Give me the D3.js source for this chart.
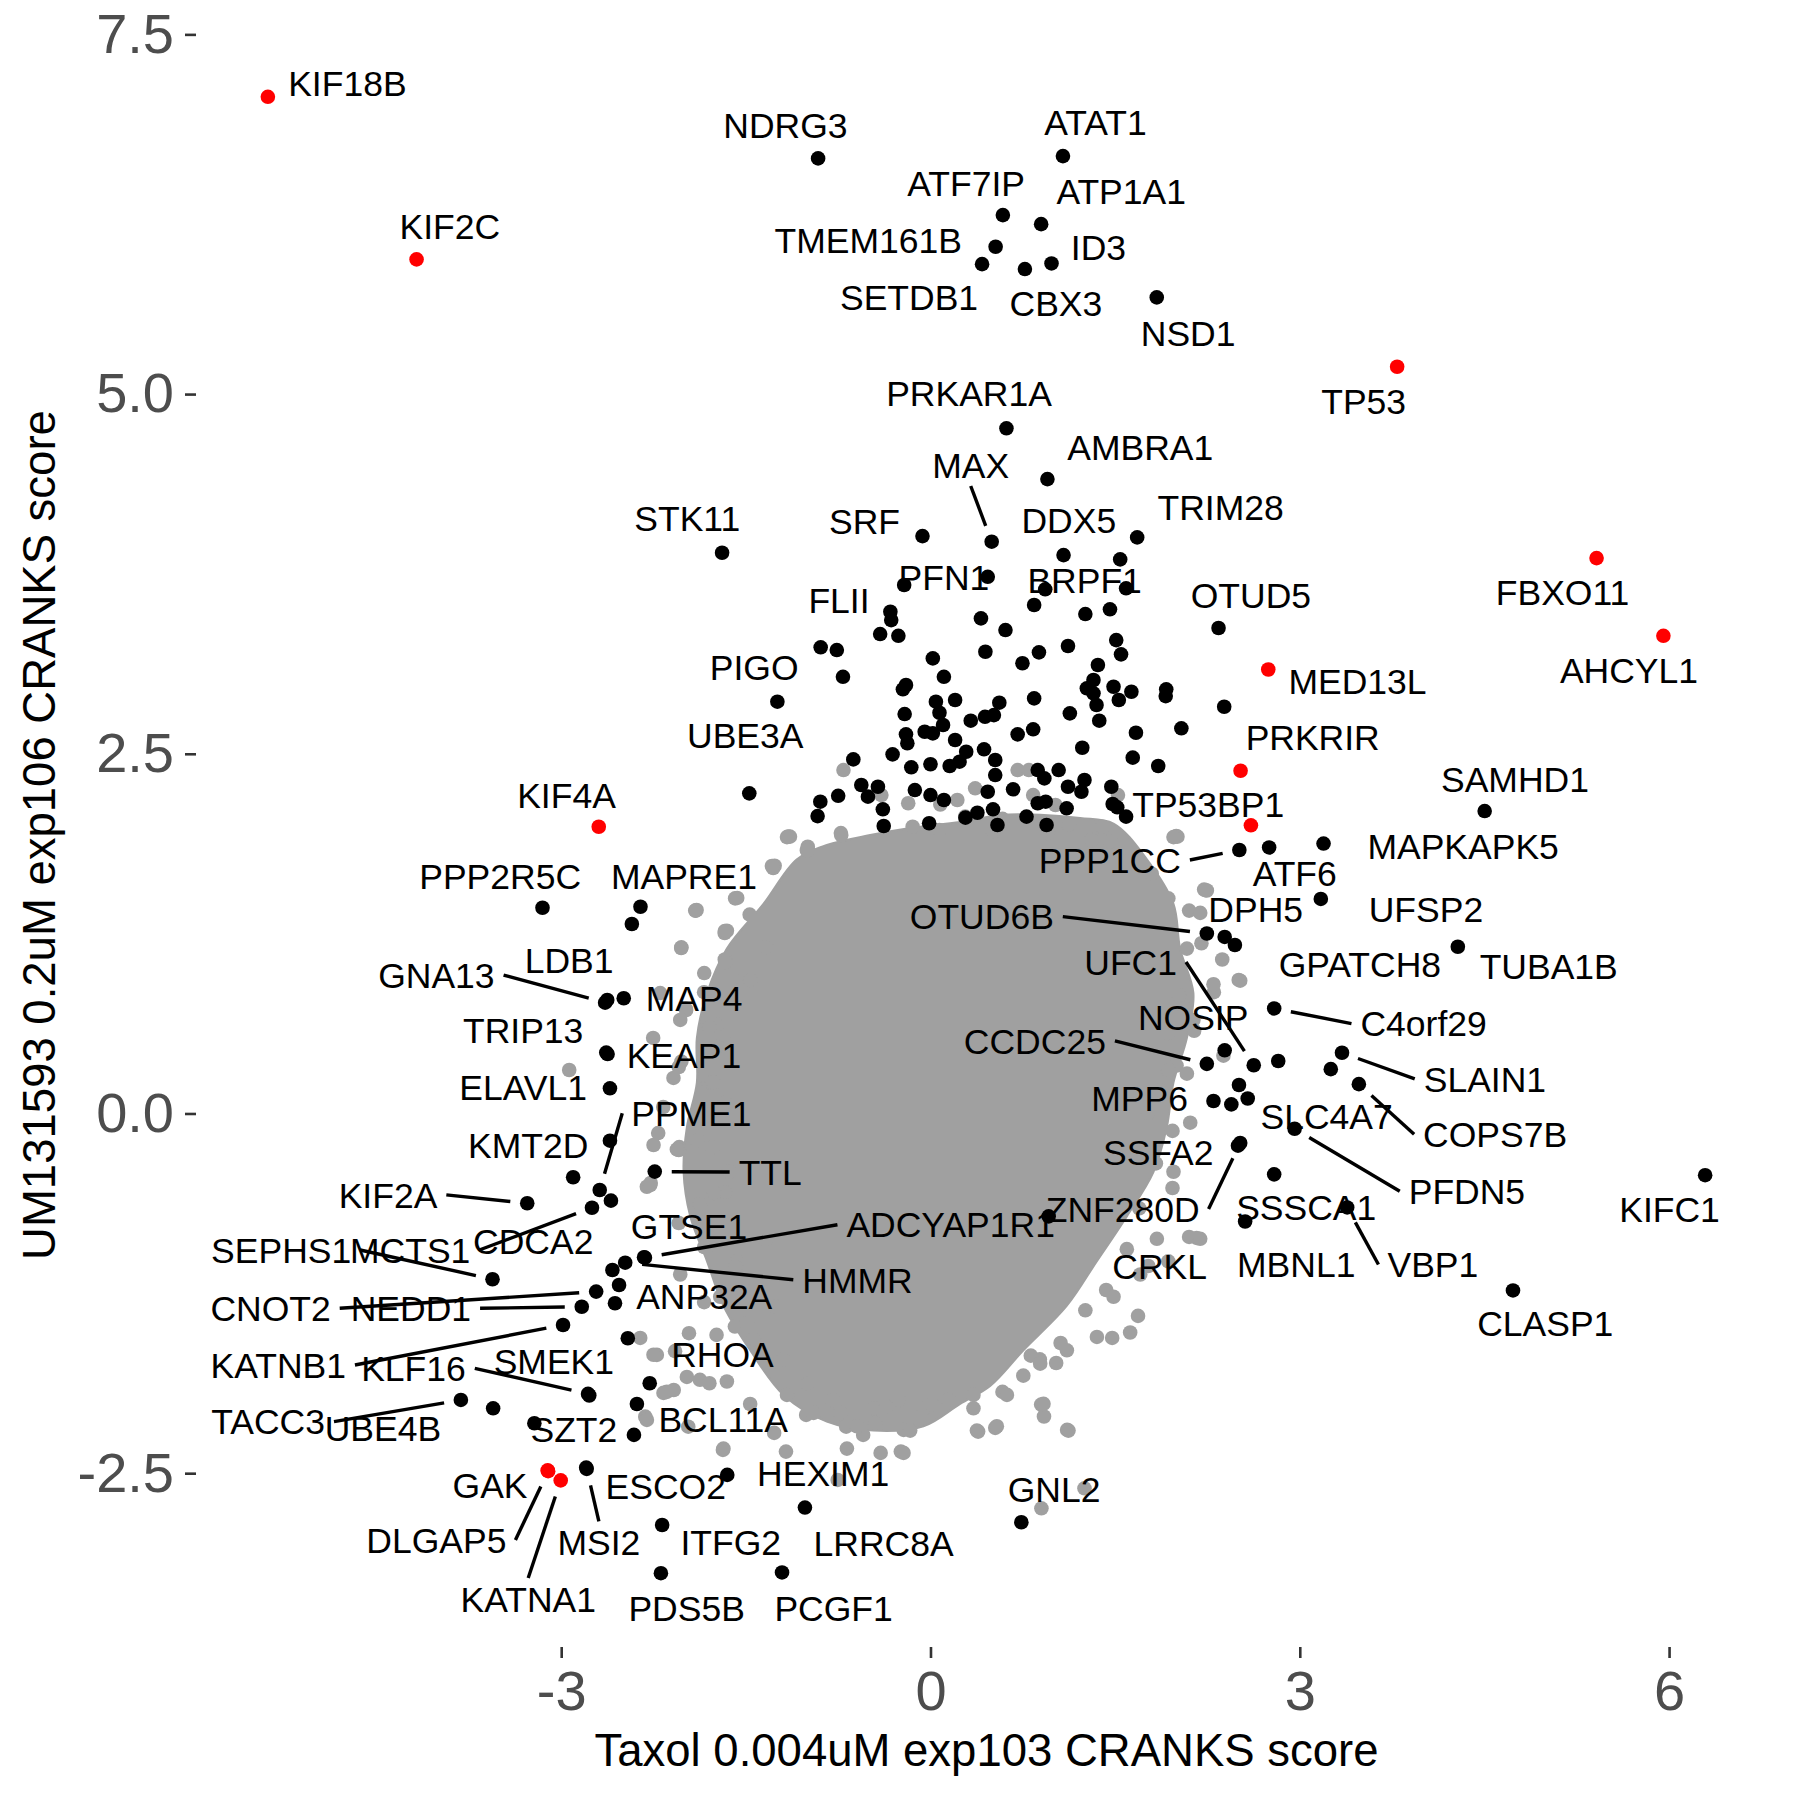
<!DOCTYPE html>
<html><head><meta charset="utf-8">
<script src="https://cdn.jsdelivr.net/npm/d3@7"></script>
<style>body{margin:0;background:#fff}</style>
</head><body>
<svg id="chart" width="1800" height="1800"></svg>
<script>
// ---------------- data ----------------
const xTicks = [-3, 0, 3, 6];
const xTickLabels = ["-3", "0", "3", "6"];
const yTicks = [-2.5, 0.0, 2.5, 5.0, 7.5];
const yTickLabels = ["-2.5", "0.0", "2.5", "5.0", "7.5"];
const xTitle = "Taxol 0.004uM exp103 CRANKS score";
const yTitle = "UM131593 0.2uM exp106 CRANKS score";

// highlighted (red) genes: [gene, x, y]
const redGenes = [
  ["KIF18B", -5.383, 7.066], ["KIF2C", -4.175, 5.936], ["TP53", 3.791, 5.190],
  ["FBXO11", 5.411, 3.860], ["AHCYL1", 5.954, 3.320], ["MED13L", 2.744, 3.086],
  ["PRKRIR", 2.519, 2.382], ["TP53BP1", 2.603, 2.003], ["KIF4A", -2.695, 1.993],
  ["GAK", -3.110, -2.480], ["DLGAP5", -3.106, -2.486], ["KATNA1", -3.004, -2.550]
];

// labelled hits (black): [gene, x, y]
const hitGenes = [
  ["NDRG3", -0.913, 6.638], ["ATAT1", 1.076, 6.654], ["ATF7IP", 0.588, 6.244],
  ["ATP1A1", 0.899, 6.181], ["TMEM161B", 0.529, 6.024], ["ID3", 0.983, 5.908],
  ["SETDB1", 0.419, 5.903], ["CBX3", 0.767, 5.869], ["NSD1", 1.838, 5.672],
  ["PRKAR1A", 0.617, 4.762], ["AMBRA1", 0.950, 4.409], ["MAX", 0.497, 3.974],
  ["STK11", -1.693, 3.897], ["SRF", -0.065, 4.013], ["DDX5", 1.081, 3.881],
  ["TRIM28", 1.679, 4.004], ["PFN1", 0.465, 3.730], ["BRPF1", 0.932, 3.643],
  ["FLII", -0.326, 3.487], ["OTUD5", 2.340, 3.374], ["PIGO", -1.244, 2.862],
  ["UBE3A", -1.472, 2.225], ["SAMHD1", 4.502, 2.102], ["PPP1CC", 2.509, 1.831],
  ["ATF6", 2.751, 1.849], ["MAPKAPK5", 3.193, 1.876], ["DPH5", 2.390, 1.227],
  ["UFSP2", 3.171, 1.491], ["OTUD6B", 2.245, 1.251], ["GPATCH8", 2.473, 1.171],
  ["TUBA1B", 4.284, 1.159], ["UFC1", 2.626, 0.335], ["NOSIP", 2.390, 0.439],
  ["C4orf29", 2.792, 0.730], ["CCDC25", 2.245, 0.345], ["SLAIN1", 3.343, 0.422],
  ["COPS7B", 3.480, 0.204], ["MPP6", 2.299, 0.087], ["SLC4A7", 2.825, 0.365],
  ["PFDN5", 2.958, -0.106], ["SSFA2", 2.498, -0.224], ["ZNF280D", 2.516, -0.205],
  ["SSSCA1", 2.792, -0.423], ["VBP1", 3.385, -0.653], ["MBNL1", 2.556, -0.751],
  ["CRKL", 0.960, -0.715], ["KIFC1", 6.293, -0.429], ["CLASP1", 4.732, -1.230],
  ["PPP2R5C", -3.152, 1.430], ["MAPRE1", -2.356, 1.437], ["GNA13", -2.643, 0.770],
  ["LDB1", -2.626, 0.789], ["MAP4", -2.492, 0.801], ["TRIP13", -2.634, 0.423],
  ["KEAP1", -2.623, 0.413], ["ELAVL1", -2.604, 0.175], ["PPME1", -2.687, -0.532],
  ["KMT2D", -2.604, -0.189], ["TTL", -2.240, -0.404], ["KIF2A", -3.276, -0.624],
  ["MCTS1", -2.750, -0.655], ["CDCA2", -2.596, -0.606], ["SEPHS1", -3.558, -1.152],
  ["GTSE1", -2.327, -0.999], ["ADCYAP1R1", -2.320, -1.002], ["HMMR", -2.480, -1.037],
  ["ANP32A", -2.563, -1.319], ["CNOT2", -2.716, -1.238], ["NEDD1", -2.833, -1.343],
  ["KATNB1", -2.985, -1.470], ["KLF16", -2.782, -1.949], ["SMEK1", -2.772, -1.960],
  ["RHOA", -2.459, -1.562], ["TACC3", -3.815, -1.991], ["UBE4B", -3.553, -2.049],
  ["SZT2", -2.409, -2.234], ["BCL11A", -2.385, -2.019], ["ESCO2", -2.797, -2.461],
  ["MSI2", -2.793, -2.470], ["HEXIM1", -1.651, -2.512], ["LRRC8A", -1.020, -2.739],
  ["ITFG2", -2.180, -2.860], ["PDS5B", -2.190, -3.195], ["PCGF1", -1.206, -3.190],
  ["GNL2", 0.738, -2.841]
];

// unlabelled hits (black): [x, y]
const hitPoints = [
  [1.541,3.851],[1.589,3.650],[-0.214,3.673],[0.842,3.534],[1.258,3.471],[1.458,3.504],
  [-0.319,3.429],[-0.409,3.332],[-0.261,3.320],[-0.892,3.240],[-0.761,3.221],[-0.711,3.035],
  [0.410,3.441],[0.609,3.360],[1.117,3.249],[1.509,3.290],[1.548,3.191],[0.446,3.209],
  [0.881,3.205],[0.747,3.129],[0.019,3.163],[1.360,3.117],[0.109,3.035],[-0.199,2.978],
  [-0.224,2.948],[1.324,3.013],[1.270,2.955],[1.324,2.920],[1.349,2.839],[1.487,2.966],
  [1.530,2.874],[1.632,2.931],[1.915,2.948],[1.911,2.901],[0.842,2.885],[0.200,2.874],
  [0.559,2.855],[0.044,2.862],[0.073,2.785],[2.386,2.827],[-0.210,2.776],[0.327,2.730],
  [0.443,2.757],[0.515,2.769],[1.132,2.781],[1.371,2.730],[2.038,2.677],[0.102,2.700],
  [0.834,2.670],[0.708,2.635],[-0.047,2.653],[0.019,2.642],[-0.199,2.635],[-0.188,2.573],
  [0.200,2.596],[1.669,2.646],[1.233,2.542],[0.435,2.531],[0.526,2.457],[0.290,2.514],
  [0.236,2.445],[0.156,2.415],[-0.308,2.496],[-0.627,2.461],[1.643,2.473],[1.850,2.415],
  [0.000,2.427],[-0.156,2.406],[0.526,2.352],[0.871,2.387],[0.925,2.329],[1.041,2.387],
  [1.251,2.318],[1.226,2.236],[1.117,2.271],[1.469,2.271],[-0.562,2.283],[-0.427,2.271],
  [-0.508,2.202],[-0.750,2.208],[-0.127,2.248],[0.000,2.213],[0.109,2.179],[0.465,2.236],
  [0.671,2.253],[-0.895,2.167],[-0.917,2.067],[-0.387,2.114],[-0.380,1.998],[0.381,2.090],
  [0.508,2.114],[0.871,2.156],[0.936,2.167],[1.106,2.121],[1.480,2.151],[1.517,2.128],
  [1.589,2.063],[-0.011,2.017],[0.780,2.063],[0.943,2.005],[0.544,2.005],[0.284,2.056],
  [3.252,0.308],[2.444,0.063],[2.577,0.104],[2.506,0.198],
  [-2.426,1.317],[-2.903,-0.443],[-2.584,-1.088],[-2.530,-1.192],[-3.218,-2.153],[-2.281,-1.875]
];

// outline of the dense grey mass of non-hit genes: [x, y]
const bgCore = [
  [-1.085,1.767],[-0.842,1.866],[-0.490,1.935],[-0.165,1.984],[0.241,2.026],[0.566,2.074],
  [0.891,2.077],[1.216,2.054],[1.487,2.015],[1.758,1.767],[1.974,1.457],[2.028,1.146],
  [2.136,0.836],[2.083,0.525],[1.974,0.215],[1.920,-0.095],[1.812,-0.405],[1.595,-0.715],
  [1.352,-1.026],[1.108,-1.336],[0.755,-1.646],[0.485,-1.894],[0.241,-2.018],[-0.057,-2.174],
  [-0.463,-2.204],[-0.842,-2.142],[-1.194,-1.956],[-1.465,-1.646],[-1.682,-1.336],[-1.816,-1.026],
  [-1.952,-0.715],[-2.006,-0.405],[-1.979,-0.095],[-1.898,0.215],[-1.898,0.525],[-1.816,0.836],
  [-1.654,1.146],[-1.357,1.457]
];

// scattered non-hit genes (grey) around the dense mass: [x, y]
const bgPoints = [
  [-1.266,1.722],[-0.998,1.835],[-0.728,1.949],[-1.587,1.495],[-1.907,1.410],[-1.671,1.268],
  [-1.469,1.382],[-1.334,1.155],[-2.024,1.155],[-1.671,1.070],[-1.519,0.928],[-1.839,0.843],
  [-1.991,0.730],[-1.738,0.616],[-1.637,0.475],[-1.806,0.220],[-2.024,0.361],[-1.671,0.078],
  [-1.907,-0.064],[-2.041,-0.234],[-1.772,-0.234],[-1.637,-0.404],[-1.873,-0.631],[-1.671,-0.546],
  [-1.806,-0.858],[-1.570,-1.028],[-1.435,-1.227],[-1.266,-1.340],[-1.839,-1.311],[-1.738,-1.539],
  [-2.075,-1.652],[-1.873,-1.851],[-2.142,-1.935],[-1.435,-1.567],[-1.200,-1.709],[-0.998,-1.878],
  [-0.795,-1.992],
  [0.080,2.147],[0.282,2.063],[0.585,2.048],[0.955,1.949],[1.123,2.006],[1.258,1.864],
  [1.461,1.892],[1.595,1.751],[1.797,1.666],[1.932,1.495],[2.235,1.552],[2.101,1.410],
  [2.201,1.183],[2.370,1.070],[2.504,0.928],[2.302,0.843],[2.067,0.730],[1.932,0.559],
  [1.999,0.333],[1.864,0.163],[1.966,-0.121],[1.831,-0.347],[1.966,-0.518],[1.696,-0.659],
  [2.101,-0.858],[1.932,-1.028],[1.595,-0.943],[1.427,-1.227],[1.258,-1.368],[1.057,-1.595],
  [0.888,-1.709],[0.754,-1.822],[0.585,-1.935],[0.922,-2.106],[0.349,-2.049],[0.147,-1.992],
  [-0.054,-2.049],[-0.257,-1.992],[-0.459,-2.049],
  [-1.156,1.924],[-1.278,1.706],[-1.570,1.498],[-1.900,1.414],[-1.672,1.254],[-2.025,1.150],
  [-1.838,0.976],[-1.465,0.928],[-1.985,0.719],[-2.253,0.525],[-1.798,0.601],[-2.045,0.323],
  [-2.935,0.302],[-2.171,0.045],[-1.773,0.219],[-2.212,-0.136],[-2.273,-0.483],[-2.045,-0.254],
  [-1.757,-0.552],[-2.045,-0.761],[-1.838,-0.928],[-1.343,-0.879],[-1.587,-1.067],
  [1.996,1.928],[2.223,1.556],[2.516,0.923],[2.017,0.823],[2.142,0.575],[1.931,0.302],
  [1.769,0.003],[2.162,-0.865],[1.769,-1.060],[1.686,-1.407],[1.476,-1.560],[1.021,-1.734],
  [0.815,-1.683],
  [-2.317,-2.107],[-1.968,-2.177],[-1.686,-2.338],[-1.270,-2.220],[-1.174,-2.350],[-1.010,-2.095],
  [-0.734,-2.081],[-0.685,-2.177],[-0.547,-2.234],[-0.451,-2.151],[-0.405,-2.359],[-0.241,-2.350],
  [-0.218,-2.199],[-0.754,-2.547],[0.387,-2.211],[0.526,-2.185],[1.110,-2.199],[1.251,-2.605],
  [0.901,-2.744],[-0.360,-2.037],[0.014,-2.023],[0.899,-2.023],
  [-2.304,-0.509],[-2.358,-1.560],[-2.223,-1.678],[-2.304,-2.130],[-2.169,-1.942],
  [-2.086,-1.922],[-1.962,-1.527],[-1.796,-1.875],[-1.589,-1.481],
  [-0.707,2.387],[-1.142,1.924],[-0.997,1.854],[-0.725,1.935],[-0.399,2.213],[-0.181,2.156],
  [0.218,2.179],[0.363,2.260],[0.708,2.387],[0.799,2.387],[1.015,2.144],[1.523,2.213],
  [1.396,1.993],[2.006,1.924],[-0.145,1.993],[0.073,1.970],[0.508,1.958],[1.305,1.901],
  [0.834,2.213],
  [-1.166,1.921],[-1.004,1.828],[-1.288,1.720],[-1.911,1.410],[-1.654,1.270],[-1.668,1.053],
  [-2.196,0.837],[-2.033,0.650],[-1.735,0.464],[-2.088,0.247],[-1.763,0.215],[-2.250,-0.219],
  [-2.060,-0.250],[-1.898,-0.188],[-2.277,-0.497],[-1.816,-0.933],[-2.033,-1.119],[-1.708,-1.274],
  [-1.492,-1.460],[-2.250,-1.677],[-1.979,-1.831],[-1.654,-1.863],[-1.465,-2.019],[-1.166,-1.956],
  [-0.950,-2.081],[-0.598,-2.174],[-0.679,-2.329],[-0.219,-2.359],[-0.165,-2.204],[-1.682,-2.329],
  [1.974,1.921],[2.245,1.550],[2.191,1.394],[2.083,1.146],[2.299,0.898],[2.136,0.650],
  [2.380,0.402],[2.083,0.277],[2.110,-0.064],[1.974,-0.405],[2.191,-0.871],[1.839,-0.871],
  [1.704,-1.119],[1.487,-1.274],[1.622,-1.522],[1.352,-1.553],[1.108,-1.646],[0.891,-1.739],
  [0.918,-2.018],[0.539,-2.174],[0.377,-2.204],[1.121,-2.204],[0.621,-1.956],[0.349,-1.956]
];

// repelled label placements (data units): [gene, labelX, labelY, hasSegment]
const labelPlacement = [
  ["KIF18B",-4.737,7.159,0],["KIF2C",-3.905,6.170,0],["TP53",3.519,4.951,0],
  ["FBXO11",5.135,3.621,0],["AHCYL1",5.674,3.081,0],["MED13L",3.469,3.001,0],
  ["PRKRIR",3.105,2.616,0],["TP53BP1",2.256,2.147,0],["KIF4A",-2.957,2.213,0],
  ["GAK",-3.578,-2.582,0],["DLGAP5",-4.014,-2.964,1],["KATNA1",-3.268,-3.374,1],
  ["NDRG3",-1.178,6.869,0],["ATAT1",1.340,6.892,0],["ATF7IP",0.290,6.464,0],
  ["ATP1A1",1.549,6.413,0],["TMEM161B",-0.506,6.070,0],["ID3",1.364,6.024,0],
  ["SETDB1",-0.174,5.672,0],["CBX3",1.019,5.630,0],["NSD1",2.093,5.426,0],
  ["PRKAR1A",0.313,5.005,0],["AMBRA1",1.704,4.634,0],["MAX",0.327,4.507,1],
  ["STK11",-1.976,4.136,0],["SRF",-0.536,4.113,0],["DDX5",1.124,4.124,0],
  ["TRIM28",2.357,4.217,0],["PFN1",0.109,3.730,0],["BRPF1",1.252,3.707,0],
  ["FLII",-0.743,3.568,0],["OTUD5",2.603,3.600,0],["PIGO",-1.432,3.105,0],
  ["UBE3A",-1.505,2.630,0],["SAMHD1",4.748,2.323,0],["PPP1CC",1.457,1.762,1],
  ["ATF6",2.959,1.671,0],["MAPKAPK5",4.327,1.855,0],["DPH5",2.642,1.421,0],
  ["UFSP2",4.025,1.421,0],["OTUD6B",0.417,1.368,1],["GPATCH8",3.488,1.035,0],
  ["TUBA1B",5.022,1.022,0],["UFC1",1.626,1.053,1],["NOSIP",2.134,0.671,0],
  ["C4orf29",4.006,0.625,1],["CCDC25",0.848,0.504,1],["SLAIN1",4.504,0.241,1],
  ["COPS7B",4.587,-0.144,1],["MPP6",1.699,0.108,0],["SLC4A7",3.218,-0.020,0],
  ["PFDN5",4.358,-0.541,1],["SSFA2",1.850,-0.272,0],["ZNF280D",1.561,-0.664,1],
  ["SSSCA1",3.052,-0.653,0],["VBP1",4.081,-1.050,1],["MBNL1",2.971,-1.050,0],
  ["CRKL",1.862,-1.060,0],["KIFC1",6.004,-0.664,0],["CLASP1",4.994,-1.459,0],
  ["PPP2R5C",-3.496,1.646,0],["MAPRE1",-2.003,1.646,0],["GNA13",-4.014,0.962,1],
  ["LDB1",-2.936,1.067,0],["MAP4",-1.920,0.801,0],["TRIP13",-3.309,0.580,0],
  ["KEAP1",-2.003,0.407,0],["ELAVL1",-3.309,0.186,0],["PPME1",-1.942,0.001,1],
  ["KMT2D",-3.268,-0.219,0],["TTL",-1.302,-0.407,1],["KIF2A",-4.407,-0.566,1],
  ["CDCA2",-3.227,-0.891,0],["SEPHS1",-5.275,-0.949,1],["MCTS1",-4.227,-0.949,1],
  ["GTSE1",-1.962,-0.787,0],["ADCYAP1R1",0.164,-0.773,1],["HMMR",-0.593,-1.156,1],
  ["ANP32A",-1.838,-1.273,0],["CNOT2",-5.361,-1.354,1],["NEDD1",-4.221,-1.354,1],
  ["KATNB1",-5.299,-1.748,1],["KLF16",-4.200,-1.771,1],["SMEK1",-3.060,-1.725,0],
  ["RHOA",-1.690,-1.670,0],["TACC3",-5.381,-2.142,1],["UBE4B",-4.448,-2.188,0],
  ["SZT2",-2.897,-2.192,0],["BCL11A",-1.684,-2.123,0],["ESCO2",-2.151,-2.594,0],
  ["MSI2",-2.694,-2.981,1],["HEXIM1",-0.872,-2.500,0],["LRRC8A",-0.381,-2.987,0],
  ["ITFG2",-1.623,-2.981,0],["PDS5B",-1.981,-3.439,0],["PCGF1",-0.787,-3.439,0],
  ["GNL2",1.004,-2.612,0]
];

// ---------------- drawing ----------------
const svg = d3.select("#chart");
const FONT = "'Liberation Sans', Arial, Helvetica, sans-serif";
const panel = {left: 196, right: 1777, top: 23, bottom: 1647};
const GREY = "#a0a0a0";
const R = 7.3;

const allPts = [
  ...redGenes.map(d => [d[1], d[2]]),
  ...hitGenes.map(d => [d[1], d[2]]),
  ...hitPoints, ...bgPoints, ...bgCore
];
const xExt = d3.extent(allPts, d => d[0]);
const yExt = d3.extent(allPts, d => d[1]);
const xPad = (xExt[1] - xExt[0]) * 0.05, yPad = (yExt[1] - yExt[0]) * 0.05;
const x = d3.scaleLinear().domain([xExt[0] - xPad, xExt[1] + xPad]).range([panel.left, panel.right]);
const y = d3.scaleLinear().domain([yExt[0] - yPad, yExt[1] + yPad]).range([panel.bottom, panel.top]);

// grey dense mass
const coreLine = d3.line().x(d => x(d[0])).y(d => y(d[1])).curve(d3.curveCatmullRomClosed);
svg.append("path").attr("d", coreLine(bgCore))
  .attr("fill", GREY).attr("stroke", GREY).attr("stroke-width", 2);

svg.append("g").selectAll("circle").data(bgPoints).join("circle")
  .attr("cx", d => x(d[0])).attr("cy", d => y(d[1])).attr("r", R).attr("fill", GREY);

svg.append("g").selectAll("circle").data(hitPoints).join("circle")
  .attr("cx", d => x(d[0])).attr("cy", d => y(d[1])).attr("r", R).attr("fill", "#000");

svg.append("g").selectAll("circle").data(hitGenes).join("circle")
  .attr("cx", d => x(d[1])).attr("cy", d => y(d[2])).attr("r", R).attr("fill", "#000");

svg.append("g").selectAll("circle").data(redGenes).join("circle")
  .attr("cx", d => x(d[1])).attr("cy", d => y(d[2])).attr("r", R).attr("fill", "#ff0000");

// axes
const yAxis = d3.axisLeft(y).tickValues(yTicks)
  .tickFormat((d, i) => yTickLabels[i]).tickSize(11).tickPadding(11);
const gy = svg.append("g").attr("transform", `translate(${panel.left},0)`).call(yAxis);
const xAxis = d3.axisBottom(x).tickValues(xTicks)
  .tickFormat((d, i) => xTickLabels[i]).tickSize(11).tickPadding(12);
const gx = svg.append("g").attr("transform", `translate(0,${panel.bottom})`).call(xAxis);
[gx, gy].forEach(g => {
  g.select(".domain").remove();
  g.selectAll(".tick line").attr("stroke", "#333333").attr("stroke-width", 2.6);
  g.selectAll(".tick text").attr("fill", "#4d4d4d").style("font-family", FONT).style("font-size", "56px");
});

// axis titles
svg.append("text").attr("x", (panel.left + panel.right) / 2).attr("y", 1766)
  .attr("text-anchor", "middle").style("font-family", FONT).style("font-size", "45.5px")
  .attr("fill", "#000").text(xTitle);
svg.append("text").attr("transform", `translate(55,${(panel.top + panel.bottom) / 2}) rotate(-90)`)
  .attr("text-anchor", "middle").style("font-family", FONT).style("font-size", "45.5px")
  .attr("fill", "#000").text(yTitle);

// labels + segments
const pointOf = new Map();
redGenes.forEach(d => pointOf.set(d[0], [d[1], d[2]]));
hitGenes.forEach(d => pointOf.set(d[0], [d[1], d[2]]));

const segG = svg.append("g");
const txtG = svg.append("g");
labelPlacement.forEach(([gene, lx, ly, seg]) => {
  const cx = x(lx), cy = y(ly);
  const t = txtG.append("text").attr("x", cx).attr("y", cy).attr("dy", "0.36em")
    .attr("text-anchor", "middle").style("font-family", FONT).style("font-size", "35.5px")
    .attr("fill", "#000").text(gene);
  if (!seg) return;
  const p = pointOf.get(gene);
  const px = x(p[0]), py = y(p[1]);
  const hw = t.node().getComputedTextLength() / 2 + 9, hh = 21;
  const cands = [[cx + hw, cy], [cx - hw, cy], [cx, cy + hh], [cx, cy - hh]];
  let best = cands[0], bd = Infinity;
  cands.forEach(c => { const dd = Math.hypot(c[0] - px, c[1] - py); if (dd < bd) { bd = dd; best = c; } });
  const ux = (px - best[0]) / bd, uy = (py - best[1]) / bd;
  const ex = px - ux * 17, ey = py - uy * 17;
  segG.append("line").attr("x1", best[0]).attr("y1", best[1]).attr("x2", ex).attr("y2", ey)
    .attr("stroke", "#000").attr("stroke-width", 3.4);
});
</script>
</body></html>
